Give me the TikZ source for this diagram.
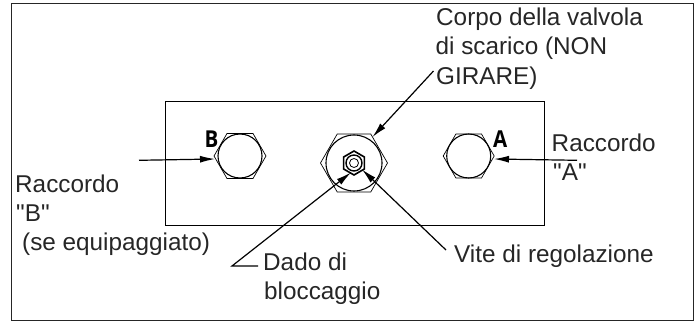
\documentclass[tikz,border=0pt]{standalone}
\usepackage{fontspec}
\newfontfamily\labelfont{Liberation Sans}
\newfontfamily\markfont{Open Sans}
\usetikzlibrary{shapes.geometric,arrows.meta}
\tikzset{
  callout/.style={anchor=base west, inner sep=0pt, text=black!85, font=\labelfont\fontsize{24.3}{28}\selectfont},
  portmark/.style={anchor=base west, inner sep=0pt, xscale=.88, font=\markfont\bfseries\fontsize{23.3}{28}\selectfont},
  leader/.style={line width=1.2pt, -{Latex[length=15pt,width=7pt]}},
  hexa/.style={regular polygon, regular polygon sides=6, draw, line width=0.7pt, inner sep=0pt, shape border rotate=#1},
  ring/.style={circle, draw, inner sep=0pt},
}
\begin{document}
\begin{tikzpicture}[x=1pt,y=-1pt]
\useasboundingbox (0,0) rectangle (699,323);
\draw[line width=1pt, black!85] (11,4) rectangle (693,320.5);
\draw[line width=1pt] (165,102) rectangle (544,226);
% raccordo B
\node[hexa=0, minimum size=52pt] (hexB) at (240,156){};
\node[ring, line width=1.1pt, minimum size=44pt] (ringB) at (240,156){};
% corpo valvola
\node[hexa=0, minimum size=67pt] (hexV) at (354,163){};
\node[ring, line width=1.1pt, minimum size=56pt] (ringV) at (354,163){};
\node[hexa=30, line width=1.6pt, minimum size=24pt] (hexN) at (354,163){};
\node[ring, line width=1.4pt, minimum size=16pt] (ringN) at (354,163){};
\node[ring, line width=0.8pt, minimum size=9pt] (ringS) at (354,163){};
% raccordo A
\node[hexa=0, minimum size=51pt] (hexA) at (468.7,156){};
\node[ring, line width=1.1pt, minimum size=44pt] (ringA) at (468.7,156){};
\node[portmark] (tagB) at (204.5,147.3){B};
\node[portmark] (tagA) at (493,147.3){A};
% testi
\node[callout] (txtCorpo1) at (436,26){Corpo della valvola};
\node[callout] (txtCorpo2) at (435.5,55){di scarico (NON};
\node[callout] (txtCorpo3) at (436,85){GIRARE)};
\node[callout] (txtRaccA1) at (551.5,151.5){Raccordo};
\node[callout] (txtRaccA2) at (553,180.5){"A"};
\node[callout] (txtRaccB1) at (15,192.5){Raccordo};
\node[callout] (txtRaccB2) at (16,221.5){"B"};
\node[callout] (txtRaccB3) at (22,250.5){(se equipaggiato)};
\node[callout] (txtVite) at (454,262.5){Vite di regolazione};
\node[callout] (txtDado1) at (263,270){Dado di};
\node[callout] (txtDado2) at (264,299){bloccaggio};
% linee di richiamo
\coordinate (startB) at (139,160.3);
\coordinate (tipB) at (215,159);
\coordinate (startA) at (577,160.3);
\coordinate (tipA) at (494,159);
\coordinate (startC) at (433.5,71);
\coordinate (tipC) at (372.5,137);
\coordinate (startV) at (446,250);
\coordinate (tipV) at (362,169.5);
\coordinate (startD) at (258,266);
\coordinate (kneeD) at (232,266);
\coordinate (tipD) at (351,172.5);
\draw[leader] (startB) -- (tipB);
\draw[leader] (startA) -- (tipA);
\draw[leader] (startC) -- (tipC);
\draw[leader] (startV) -- (tipV);
\draw[leader] (startD) -- (kneeD) -- (tipD);
\end{tikzpicture}
\end{document}
